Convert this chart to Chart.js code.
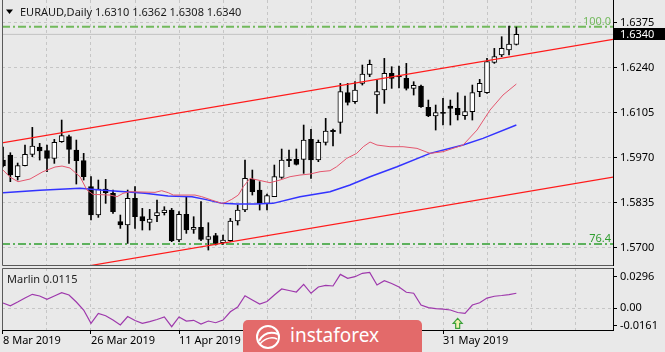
<!DOCTYPE html>
<html>
<head>
<meta charset="utf-8">
<script src="https://cdn.jsdelivr.net/npm/chart.js@4/dist/chart.umd.min.js"></script>
<style>
html, body { margin: 0; padding: 0; background: #e9e9e9; }
#wrap { position: relative; width: 665px; height: 352px; overflow: hidden; }
canvas { position: absolute; left: 0; }
#main { top: 0; }
#sub { top: 268px; }
#brand { position: absolute; left: 243px; top: 320px; width: 179px; height: 40px; background: #e36a6a; border-radius: 5px; }
#brand svg { position: absolute; left: 8px; top: 2px; }
#brand span { position: absolute; left: 47px; top: 2px; font: 19px "Noto Sans", sans-serif; color: #fff; line-height: normal; }
</style>
</head>
<body>
<div id="wrap">
  <canvas id="main" width="665" height="268"></canvas>
  <canvas id="sub" width="665" height="84"></canvas>
  <div id="brand">
    <svg width="34" height="30" viewBox="0 0 34 30">
      <circle cx="17" cy="15" r="11" fill="none" stroke="#fff" stroke-width="2"/>
      <path d="M8 19 C13 10, 21 10, 27 12" fill="none" stroke="#fff" stroke-width="2"/>
      <path d="M9 22 C15 15, 22 15, 26 17" fill="none" stroke="#fff" stroke-width="1.5"/>
    </svg>
    <span>instaforex</span>
  </div>
</div>
<script>
// EURAUD daily bars, 8 Mar 2019 .. 14 Jun 2019 (bar index 0..70)
const openP = [
  1.5963, 1.5978, 1.5913, 1.5946, 1.5980, 1.6002, 1.5991, 1.5968, 1.6018, 1.6033,
  1.5993, 1.5961, 1.5883, 1.5798, 1.5876, 1.5863, 1.5778, 1.5768, 1.5848, 1.5793,
  1.5776, 1.5796, 1.5805, 1.5813, 1.5723, 1.5800, 1.5755, 1.5761, 1.5725, 1.5736,
  1.5715, 1.5721, 1.5780, 1.5813, 1.5905, 1.5873, 1.5833, 1.5853, 1.5911, 1.5966,
  1.5965, 1.5965, 1.6025, 1.5963, 1.6016, 1.6052, 1.6076, 1.6165, 1.6138, 1.6193,
  1.6220, 1.6158, 1.6173, 1.6223, 1.6215, 1.6208, 1.6178, 1.6185, 1.6121, 1.6095,
  1.6105, 1.6125, 1.6118, 1.6096, 1.6108, 1.6168, 1.6165, 1.6256, 1.6278, 1.6293,
  1.6310
];
const highP = [
  1.6002, 1.5985, 1.5954, 1.6008, 1.6061, 1.6013, 1.6008, 1.6025, 1.6083, 1.6038,
  1.6023, 1.5983, 1.5913, 1.5903, 1.5905, 1.5873, 1.5798, 1.5873, 1.5883, 1.5818,
  1.5815, 1.5843, 1.5823, 1.5818, 1.5808, 1.5853, 1.5793, 1.5838, 1.5775, 1.5743,
  1.5738, 1.5788, 1.5828, 1.5963, 1.5933, 1.5898, 1.5861, 1.5948, 1.5996, 1.5993,
  1.5996, 1.6068, 1.6055, 1.6023, 1.6088, 1.6056, 1.6193, 1.6193, 1.6198, 1.6248,
  1.6263, 1.6203, 1.6268, 1.6243, 1.6245, 1.6253, 1.6198, 1.6188, 1.6143, 1.6128,
  1.6148, 1.6143, 1.6165, 1.6155, 1.6188, 1.6205, 1.6268, 1.6298, 1.6333, 1.6365,
  1.6362
];
const lowP = [
  1.5942, 1.5898, 1.5903, 1.5945, 1.5973, 1.5963, 1.5928, 1.5953, 1.6016, 1.5953,
  1.5891, 1.5903, 1.5783, 1.5791, 1.5833, 1.5803, 1.5758, 1.5713, 1.5758, 1.5753,
  1.5753, 1.5778, 1.5798, 1.5718, 1.5718, 1.5743, 1.5743, 1.5721, 1.5693, 1.5708,
  1.5710, 1.5718, 1.5768, 1.5808, 1.5858, 1.5813, 1.5813, 1.5853, 1.5908, 1.5943,
  1.5948, 1.5923, 1.5908, 1.5958, 1.6008, 1.6005, 1.6043, 1.6128, 1.6133, 1.6188,
  1.6213, 1.6103, 1.6133, 1.6178, 1.6179, 1.6173, 1.6158, 1.6121, 1.6093, 1.6053,
  1.6068, 1.6068, 1.6083, 1.6085, 1.6083, 1.6153, 1.6163, 1.6253, 1.6273, 1.6278,
  1.6308
];
const closeP = [
  1.5945, 1.5918, 1.5946, 1.5980, 1.6005, 1.5990, 1.5968, 1.6016, 1.6036, 1.5995,
  1.5961, 1.5913, 1.5798, 1.5876, 1.5865, 1.5808, 1.5768, 1.5848, 1.5793, 1.5780,
  1.5786, 1.5805, 1.5813, 1.5721, 1.5800, 1.5753, 1.5761, 1.5725, 1.5733, 1.5713,
  1.5723, 1.5780, 1.5813, 1.5908, 1.5868, 1.5833, 1.5856, 1.5913, 1.5963, 1.5961,
  1.5950, 1.6023, 1.5963, 1.6016, 1.6050, 1.6048, 1.6168, 1.6136, 1.6173, 1.6221,
  1.6250, 1.6168, 1.6223, 1.6208, 1.6212, 1.6178, 1.6187, 1.6123, 1.6095, 1.6105,
  1.6103, 1.6118, 1.6098, 1.6108, 1.6165, 1.6193, 1.6258, 1.6273, 1.6298, 1.6311,
  1.6340
];

// fast moving average (red): bar position / price
const maFastIdx = [0, 0.95, 2.05, 3.68, 5.45, 7.09, 8.05, 9.14, 10.5, 11.45,
  12.27, 14.59, 15.55, 16.36, 17.32, 20.73, 21.64, 22.54, 23.22, 26.18,
  27.1, 28.46, 29.82, 30.27, 31.19, 32.09, 32.77, 33.68, 34.77, 36.41,
  37.77, 39.14, 40.5, 41.86, 43.23, 44.59, 45.5, 46.87, 48.23, 49.13,
  50.05, 51, 52.77, 54.55, 56.45, 58.23, 60, 62.73, 64.64, 66.41,
  68.18, 70];
const maFastVal = [1.5933, 1.5912, 1.5898, 1.5906, 1.5928, 1.5942, 1.5945, 1.5939, 1.5913, 1.5873,
  1.5860, 1.5858, 1.5853, 1.5863, 1.5868, 1.5866, 1.5871, 1.5865, 1.5858, 1.5858,
  1.5853, 1.5843, 1.5833, 1.5835, 1.5845, 1.5858, 1.5883, 1.5908, 1.5903, 1.5895,
  1.5903, 1.5913, 1.5918, 1.5921, 1.5928, 1.5931, 1.5943, 1.5968, 1.5983, 1.6003,
  1.6017, 1.6008, 1.6003, 1.6003, 1.5998, 1.5983, 1.5988, 1.6008, 1.6053, 1.6113,
  1.6158, 1.6191];

// slow moving average (blue)
const maSlowIdx = [0, 5.05, 10.5, 13.23, 16.64, 19.36, 22.5, 25.77, 27.55, 29.86,
  31.91, 34.36, 36.82, 40.5, 44.59, 47.32, 50.05, 53.73, 58.23, 62.73, 65.45, 70];
const maSlowVal = [1.5865, 1.5872, 1.5878, 1.5873, 1.5868, 1.5863, 1.5855, 1.5853, 1.5845, 1.5833,
  1.5831, 1.5831, 1.5833, 1.5853, 1.5868, 1.5888, 1.5913, 1.5943, 1.5983, 1.6008, 1.6028, 1.6068];

// Marlin oscillator, one value per bar
const marlin = [
  0.0050, 0.0024, 0.0059, 0.0096, 0.0131, 0.0115, 0.0084, 0.0115, 0.0146, 0.0125,
  0.0059, -0.0016, -0.0140, -0.0047, -0.0069, -0.0110, -0.0156, -0.0077, -0.0114, -0.0140,
  -0.0124, -0.0105, -0.0081, -0.0172, -0.0081, -0.0119, -0.0112, -0.0147, -0.0119, -0.0135,
  -0.0110, -0.0032, 0.0012, 0.0118, 0.0078, 0.0040, 0.0064, 0.0125, 0.0181, 0.0167,
  0.0153, 0.0225, 0.0141, 0.0200, 0.0214, 0.0209, 0.0318, 0.0281, 0.0296, 0.0328,
  0.0337, 0.0218, 0.0259, 0.0232, 0.0200, 0.0150, 0.0141, 0.0031, 0.0006, -0.0002,
  -0.0007, -0.0016, -0.0039, -0.0047, 0.0031, 0.0052, 0.0096, 0.0113, 0.0120, 0.0129,
  0.0141
];
const marlinCurrent = '0.0115';

// trend channel (bar position, price)
const channelUpper = [[-1, 1.6011], [84, 1.6328]];
const channelLower = [[0, 1.5602], [84, 1.5915]];

const fiboLevels = [1.6363, 1.5711];
const fiboNames = ['100.0', '76.4'];
const fiboColors = ['#72b95c', '#2f9e2f'];
const bidPrice = 1.6340;

const signalIdx = [62];
const signalVal = [-0.0094];

const priceTicks = [1.5700, 1.5835, 1.5970, 1.6105, 1.6240, 1.6375];
const marlinTicks = [-0.0161, 0, 0.0296];
const dateTickIdx = [0, 12, 24, 36, 48, 60];
const dateTickText = ['8 Mar 2019', '26 Mar 2019', '11 Apr 2019', '29 Apr 2019', '15 May 2019', '31 May 2019'];

const symbolName = 'EURAUD,Daily';

const FONT = '"Noto Sans", "DejaVu Sans", sans-serif';
const X_MIN = -0.136, X_MAX = 83.18;
const GRID_STEP = 6;
const GRID_COLOR = '#c6c6c6';

function gridTicks() {
    const t = [];
    for (let v = 0; v <= X_MAX; v += GRID_STEP) t.push({ value: v });
    return t;
}
function noPad(s) {
    s.paddingTop = 0; s.paddingBottom = 0; s.paddingLeft = 0; s.paddingRight = 0;
}
const pts = (xs, ys) => xs.map((x, k) => ({ x: x, y: ys[k] }));
const seg = a => a.map(p => ({ x: p[0], y: p[1] }));
const flat = v => [{ x: X_MIN, y: v }, { x: X_MAX, y: v }];
const lineSet = (data, color, width, order, dash) => ({
    type: 'line', data: data, borderColor: color, borderWidth: width,
    pointRadius: 0, tension: 0, fill: false, order: order, borderDash: dash || []
});

const barIdx = openP.map((o, i) => i);
const last = openP.length - 1;

// Main price panel decorations
const mainDecor = {
    id: 'mainDecor',
    afterDraw(chart) {
        const { ctx, chartArea: a, scales: { y } } = chart;
        ctx.save();
        ctx.strokeStyle = '#5a5a5a';
        ctx.lineWidth = 1;
        ctx.beginPath();
        ctx.moveTo(a.left + 0.5, a.top);
        ctx.lineTo(a.left + 0.5, a.bottom + 0.5);
        ctx.lineTo(a.right, a.bottom + 0.5);
        ctx.stroke();

        // header
        ctx.fillStyle = '#000';
        ctx.beginPath();
        ctx.moveTo(6, 9.5); ctx.lineTo(13, 9.5); ctx.lineTo(9.5, 14);
        ctx.closePath();
        ctx.fill();
        ctx.font = '11px ' + FONT;
        ctx.fillStyle = '#1a1a1a';
        ctx.textBaseline = 'alphabetic';
        ctx.textAlign = 'left';
        ctx.fillText(symbolName, 20, 16);
        const ohlc = [openP[last], highP[last], lowP[last], closeP[last]].map(v => v.toFixed(4)).join(' ');
        ctx.fillText(ohlc, 95, 16);

        // fibo level names
        ctx.textAlign = 'right';
        fiboLevels.forEach((lv, k) => {
            ctx.fillStyle = fiboColors[k];
            ctx.fillText(fiboNames[k], a.right - 2, y.getPixelForValue(lv) - 2);
        });

        // current price box
        const py = Math.round(y.getPixelForValue(bidPrice));
        ctx.fillStyle = '#000';
        ctx.fillRect(a.right + 1, py - 6, 52, 12);
        ctx.fillStyle = '#fff';
        ctx.textAlign = 'left';
        ctx.textBaseline = 'middle';
        ctx.fillText(bidPrice.toFixed(4), a.right + 7, py + 0.5);
        ctx.restore();
    }
};

// Oscillator panel decorations
const subDecor = {
    id: 'subDecor',
    afterDraw(chart) {
        const { ctx, chartArea: a, scales: { x, y } } = chart;
        ctx.save();
        ctx.strokeStyle = '#5a5a5a';
        ctx.lineWidth = 1;
        ctx.beginPath();
        ctx.moveTo(a.left + 0.5, a.bottom);
        ctx.lineTo(a.left + 0.5, a.top + 0.5);
        ctx.lineTo(a.right, a.top + 0.5);
        ctx.stroke();

        ctx.font = '11px ' + FONT;
        ctx.fillStyle = '#222';
        ctx.textAlign = 'left';
        ctx.textBaseline = 'alphabetic';
        ctx.fillText('Marlin ' + marlinCurrent, 7, 15);

        // signal arrows
        signalIdx.forEach((si, k) => {
            const px = x.getPixelForValue(si);
            const py = y.getPixelForValue(signalVal[k]);
            ctx.beginPath();
            ctx.moveTo(px, py);
            ctx.lineTo(px + 4.5, py + 5);
            ctx.lineTo(px + 2, py + 5);
            ctx.lineTo(px + 2, py + 10);
            ctx.lineTo(px - 2, py + 10);
            ctx.lineTo(px - 2, py + 5);
            ctx.lineTo(px - 4.5, py + 5);
            ctx.closePath();
            ctx.fillStyle = '#f2f2b0';
            ctx.fill();
            ctx.strokeStyle = '#3aa03a';
            ctx.lineWidth = 1.2;
            ctx.stroke();
        });
        ctx.restore();
    }
};

const mainChart = new Chart(document.getElementById('main'), {
    type: 'bar',
    data: {
        datasets: [
            {
                label: 'body',
                data: barIdx.map(i => ({ x: i, y: [openP[i], closeP[i]] })),
                backgroundColor: barIdx.map(i => closeP[i] >= openP[i] ? '#ffffff' : '#000000'),
                borderColor: '#000',
                borderWidth: 1,
                borderSkipped: false,
                barThickness: 5,
                minBarLength: 1,
                grouped: false,
                order: 2
            },
            {
                label: 'wick',
                data: barIdx.map(i => ({ x: i, y: [lowP[i], highP[i]] })),
                backgroundColor: '#000',
                borderWidth: 0,
                barThickness: 1,
                grouped: false,
                order: 3
            },
            lineSet(pts(maFastIdx, maFastVal), '#e4566e', 1, 1),
            lineSet(pts(maSlowIdx, maSlowVal), '#3333ff', 1.5, 1),
            lineSet(seg(channelUpper), '#ff1a1a', 1.2, 0),
            lineSet(seg(channelLower), '#ff1a1a', 1.2, 0),
            lineSet(flat(fiboLevels[0]), fiboColors[0], 2, 5, [8, 3, 2, 3]),
            lineSet(flat(fiboLevels[1]), fiboColors[1], 1.5, 5, [8, 3, 2, 3]),
            lineSet(flat(bidPrice), '#c2c2c2', 1, 6)
        ]
    },
    options: {
        responsive: false,
        animation: false,
        events: [],
        layout: { padding: { left: 2, top: 0, right: 0, bottom: 3 } },
        plugins: { legend: { display: false }, tooltip: { enabled: false } },
        scales: {
            x: {
                type: 'linear', min: X_MIN, max: X_MAX, offset: false,
                afterBuildTicks: s => { s.ticks = gridTicks(); },
                afterFit: s => { s.height = 0; noPad(s); },
                ticks: { display: false },
                grid: { color: GRID_COLOR, drawTicks: false, offset: false },
                border: { display: false, dash: [3, 3] }
            },
            y: {
                position: 'right', min: 1.56481, max: 1.64431,
                afterBuildTicks: s => { s.ticks = priceTicks.map(v => ({ value: v })); },
                afterFit: s => { s.width = 52; noPad(s); },
                ticks: {
                    autoSkip: false, padding: 3, color: '#000',
                    font: { family: FONT, size: 11 },
                    callback: v => v.toFixed(4)
                },
                grid: { color: GRID_COLOR, tickLength: 4, tickColor: '#000' },
                border: { display: true, color: '#000', dash: [3, 3] }
            }
        }
    },
    plugins: [mainDecor]
});

const subChart = new Chart(document.getElementById('sub'), {
    type: 'line',
    data: {
        datasets: [
            lineSet(barIdx.map(i => ({ x: i, y: marlin[i] })), '#9e38ac', 1.2, 0)
        ]
    },
    options: {
        responsive: false,
        animation: false,
        events: [],
        layout: { padding: { left: 2, top: 0, right: 0, bottom: 0 } },
        plugins: { legend: { display: false }, tooltip: { enabled: false } },
        scales: {
            x: {
                type: 'linear', min: X_MIN, max: X_MAX, offset: false,
                afterBuildTicks: s => { s.ticks = gridTicks(); },
                afterFit: s => { s.height = 22; noPad(s); },
                ticks: {
                    autoSkip: false, maxRotation: 0, minRotation: 0, align: 'start', padding: 0,
                    color: '#000', font: { family: FONT, size: 11 },
                    callback: v => { const k = dateTickIdx.indexOf(v); return k < 0 ? '' : dateTickText[k]; }
                },
                grid: {
                    color: GRID_COLOR, tickLength: 4, offset: false,
                    tickColor: c => (c.tick && dateTickIdx.includes(c.tick.value)) ? '#000' : 'rgba(0,0,0,0)'
                },
                border: { display: true, color: '#000', dash: [3, 3] }
            },
            y: {
                position: 'right', min: -0.0203, max: 0.03775,
                afterBuildTicks: s => { s.ticks = marlinTicks.map(v => ({ value: v })); },
                afterFit: s => { s.width = 52; noPad(s); },
                ticks: {
                    autoSkip: false, padding: 3, color: '#000',
                    font: { family: FONT, size: 11 },
                    callback: v => v === 0 ? '0.00' : v.toFixed(4)
                },
                grid: {
                    color: c => (c.tick && c.tick.value === 0) ? GRID_COLOR : 'rgba(0,0,0,0)',
                    tickLength: 4, tickColor: '#000'
                },
                border: { display: true, color: '#000', dash: [3, 3] }
            }
        }
    },
    plugins: [subDecor]
});
</script>
</body>
</html>
